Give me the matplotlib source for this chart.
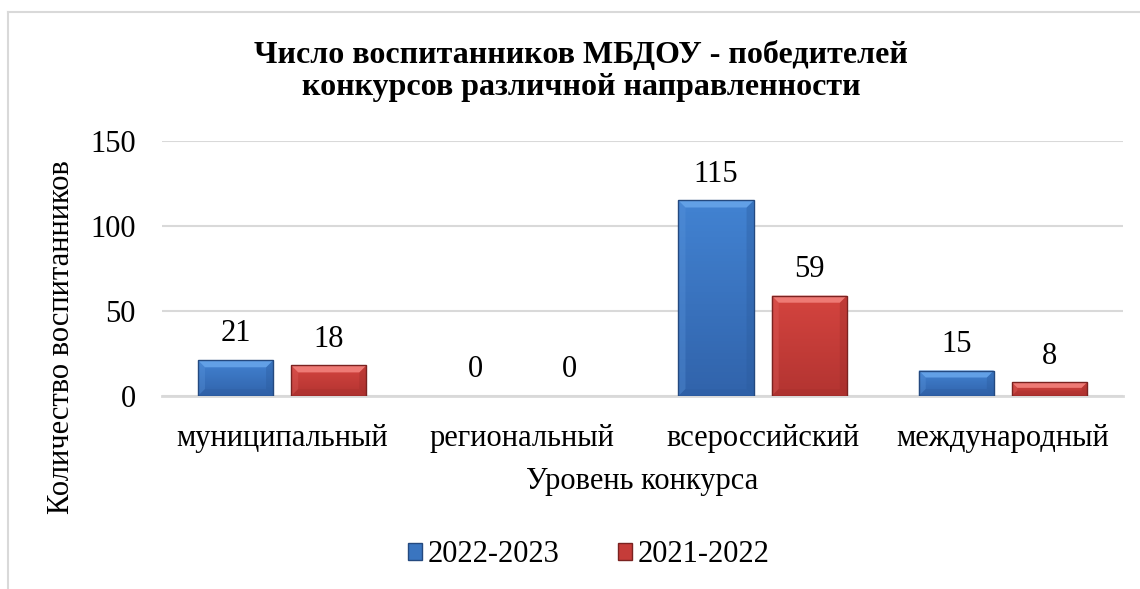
import numpy as np
import matplotlib
matplotlib.use("Agg")
import matplotlib.pyplot as plt
from matplotlib.patches import Polygon, Patch
from matplotlib.lines import Line2D
from matplotlib.colors import LinearSegmentedColormap

# ── Data ─────────────────────────────────────────────────────────────────────
categories = ["муниципальный", "региональный", "всероссийский", "международный"]
series_names = ["2022-2023", "2021-2022"]
vals_2223 = [21, 0, 115, 15]
vals_2122 = [18, 0, 59, 8]
yticks = [0, 50, 100, 150]

title = "Число воспитанников МБДОУ - победителей\nконкурсов различной направленности"
xlabel = "Уровень конкурса"
ylabel = "Количество воспитанников"

# ── Style ────────────────────────────────────────────────────────────────────
plt.rcParams["font.family"] = ["Liberation Serif", "DejaVu Serif"]
GRID = "#d9d9d9"
BLUE = dict(base="#3a75c0", hi="#4283d2", lo="#3163ab", top="#62a0e6",
            left="#5a95dc", right="#2a5a9c", bottom="#2d5c9f", edge="#24497f")
RED = dict(base="#c53c39", hi="#d4443f", lo="#b33431", top="#ee7a75",
           left="#e0605c", right="#9c2c2a", bottom="#a52f2c", edge="#7a2220")

fig = plt.figure(figsize=(11.4, 5.89), dpi=100)
ax = fig.add_axes([162 / 1140, 1 - 396 / 589, (1123 - 162) / 1140, (396 - 141) / 589])

x = np.arange(len(categories))
width = 0.3125
offset = 0.194

bars1 = ax.bar(x - offset, vals_2223, width, color=BLUE["base"], zorder=3, linewidth=0)
bars2 = ax.bar(x + offset, vals_2122, width, color=RED["base"], zorder=3, linewidth=0)

ax.set_xlim(-0.5, len(categories) - 0.5)
ax.set_ylim(0, 150)
ax.set_yticks(yticks)
ax.set_xticks(x)
ax.set_xticklabels(categories, fontsize=22)
ax.tick_params(axis="y", labelsize=22, length=0, pad=19)
ax.tick_params(axis="x", length=0, pad=20)
for s in ["top", "right", "left"]:
    ax.spines[s].set_visible(False)
ax.spines["bottom"].set_color(GRID)
ax.spines["bottom"].set_linewidth(2)
ax.spines["bottom"].set_zorder(2)
ax.yaxis.grid(True, color=GRID, linewidth=1.5, zorder=0)
ax.set_axisbelow(True)


def bevel(ax, bar, pal, d=7):
    """Gradient body plus bevel facets on a bar, sized in pixels."""
    h = bar.get_height()
    if h <= 0:
        bar.set_visible(False)
        return
    x0, y0, w = bar.get_x(), bar.get_y(), bar.get_width()
    cmap = LinearSegmentedColormap.from_list("g", [pal["lo"], pal["hi"]])
    grad = np.linspace(0, 1, 64).reshape(-1, 1)
    im = ax.imshow(grad, cmap=cmap, origin="lower", aspect="auto",
                   extent=(x0, x0 + w, y0, y0 + h), zorder=3.5)
    im.set_clip_path(bar)
    p0 = ax.transData.transform((x0, y0))
    p1 = ax.transData.transform((x0 + w, y0 + h))
    L, B = p0
    R, T = p1
    dd = min(d, (T - B) / 2.5)
    inv = ax.transData.inverted()
    faces = [
        ([(L, B), (L, T), (L + dd, T - dd), (L + dd, B + dd)], pal["left"], 0.35),
        ([(R, B), (R, T), (R - dd, T - dd), (R - dd, B + dd)], pal["right"], 0.35),
        ([(L, B), (R, B), (R - dd, B + dd), (L + dd, B + dd)], pal["bottom"], 0.3),
        ([(L, T), (R, T), (R - dd, T - dd), (L + dd, T - dd)], pal["top"], 1.0),
    ]
    for pts, c, a in faces:
        ax.add_patch(Polygon(inv.transform(pts), closed=True, facecolor=c, alpha=a,
                             edgecolor="none", zorder=4))
    ax.add_patch(Polygon(inv.transform([(L, B), (L, T), (R, T), (R, B)]), closed=True,
                         facecolor="none", edgecolor=pal["edge"], linewidth=1, zorder=5))


for b in bars1:
    bevel(ax, b, BLUE)
for b in bars2:
    bevel(ax, b, RED)
ax.set_xlim(-0.5, len(categories) - 0.5)
ax.set_ylim(0, 150)

# value labels
for bars, vals in [(bars1, vals_2223), (bars2, vals_2122)]:
    for b, v in zip(bars, vals):
        ax.annotate(f"{v}", (b.get_x() + b.get_width() / 2, v),
                    xytext=(0, 19), textcoords="offset points",
                    ha="center", va="center", fontsize=22, zorder=6)

# titles and axis labels
fig.text(581 / 1140, 1 - 71 / 589, title, ha="center", va="center",
         fontsize=23, fontweight="bold", linespacing=1.15)
fig.text(642 / 1140, 1 - 482 / 589, xlabel, ha="center", va="center", fontsize=22)
fig.text(62 / 1140, 1 - 337 / 589, ylabel, ha="center", va="center",
         fontsize=22, rotation=90)

# legend
handles = [Patch(facecolor=BLUE["base"], edgecolor=BLUE["edge"]),
           Patch(facecolor=RED["base"], edgecolor=RED["edge"])]
fig.legend(handles, series_names, loc="center", bbox_to_anchor=(589 / 1140, 1 - 555 / 589),
           ncol=2, frameon=False, fontsize=22, handlelength=0.45, handleheight=0.45,
           handletextpad=0.2, columnspacing=1.9)

# outer chart frame (only top and left visible in the crop)
fig.add_artist(Line2D([8 / 1140, 8 / 1140], [0, 1 - 12 / 589], color=GRID, linewidth=1.5))
fig.add_artist(Line2D([8 / 1140, 1], [1 - 12 / 589, 1 - 12 / 589], color=GRID, linewidth=1.5))

fig.savefig("out.png", dpi=100)
